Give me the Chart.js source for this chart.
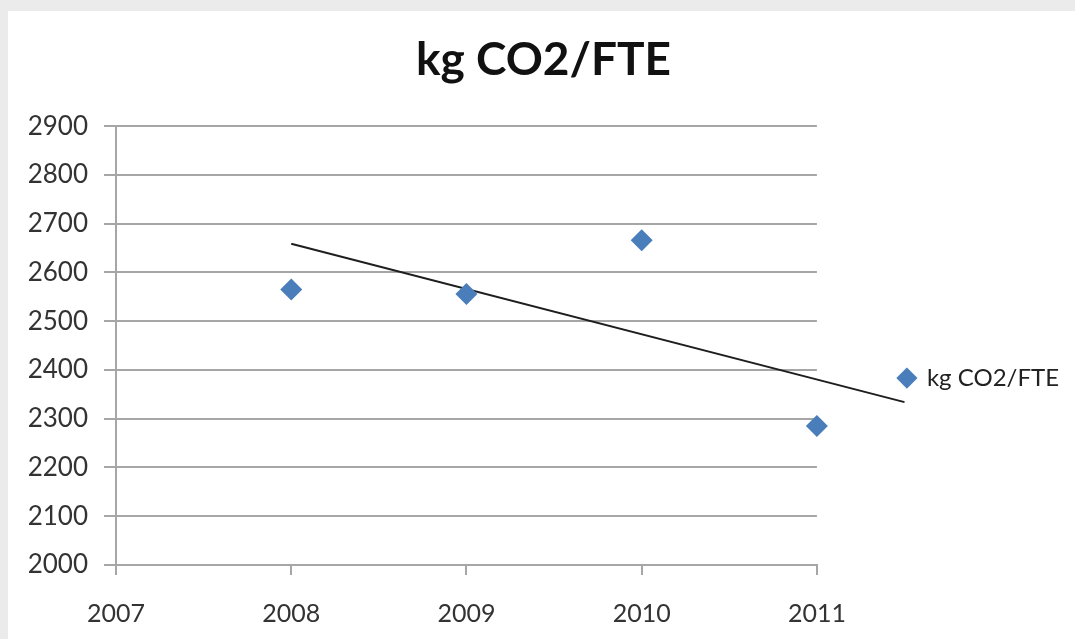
<!DOCTYPE html>
<html>
<head>
<meta charset="utf-8">
<title>kg CO2/FTE</title>
<script src="https://cdn.jsdelivr.net/npm/chart.js@4/dist/chart.umd.min.js"></script>
<style>
  body { margin: 0; background: #ebebeb; overflow: hidden; }
  #myChart { position: absolute; left: 8px; top: 11px; background: #fff; }
</style>
</head>
<body>
<canvas id="myChart" width="1067" height="628"></canvas>
<script>
// data
var years = [2008, 2009, 2010, 2011];
var kgPerFte = [2565, 2556, 2666, 2285];

// trendline ends, as drawn
var trendX = [2008, 2011.5];
var trendY = [2659, 2334];

var xMin = 2007, xMax = 2011;
var yMin = 2000, yMax = 2900, yStep = 100;

var seriesName = 'kg CO2/FTE';

var gray = '#a6a6a6';
var font = 'Lato';

var points = years.map(function(x, i) { return { x: x, y: kgPerFte[i] }; });
var trend = trendX.map(function(x, i) { return { x: x, y: trendY[i] }; });

var ctx = document.getElementById('myChart').getContext('2d');
var chart = new Chart(ctx, {
    type: 'scatter',
    data: {
        datasets: [{
            label: seriesName,
            data: points,
            pointStyle: 'rectRot',
            pointRadius: 11,
            backgroundColor: '#4A7EBB',
            borderColor: '#4A7EBB',
            borderWidth: 0,
            clip: false
        },
        {
            label: 'trend',
            type: 'line',
            data: trend,
            borderColor: '#1e1e1e',
            borderWidth: 2,
            pointRadius: 0,
            fill: false,
            clip: false
        }]
    },
    options: {
        responsive: false,
        animation: false,
        layout: { padding: { left: 10, right: 6, top: 0, bottom: 0 } },
        plugins: {
            tooltip: { enabled: false },
            title: {
                display: true,
                text: seriesName,
                color: '#111',
                font: { family: font, size: 46, weight: 'bold' },
                padding: { top: 22, bottom: 38 }
            },
            legend: {
                position: 'right',
                fullSize: false,
                align: 'center',
                title: { display: true, text: '', font: { size: 10 }, padding: { top: 53, bottom: 0 } },
                labels: {
                    filter: function(item) { return item.datasetIndex === 0; },
                    usePointStyle: true,
                    boxWidth: 16,
                    boxHeight: 15,
                    padding: 82,
                    color: '#222',
                    font: { family: font, size: 24 }
                }
            }
        },
        scales: {
            x: {
                type: 'linear',
                min: xMin,
                max: xMax,
                afterFit: function(scale) { scale.height = 74; },
                ticks: {
                    stepSize: 1,
                    padding: 24,
                    color: '#333',
                    font: { family: font, size: 25 },
                    callback: function(v) { return String(v); }
                },
                grid: { drawOnChartArea: false, drawTicks: true, tickLength: 10, color: gray, lineWidth: 2 },
                border: { display: true, color: gray, width: 2 }
            },
            y: {
                min: yMin,
                max: yMax,
                afterFit: function(scale) { scale.width = 98; },
                ticks: {
                    stepSize: yStep,
                    padding: 16,
                    color: '#333',
                    font: { family: font, size: 26 },
                    callback: function(v) { return String(v); }
                },
                grid: { color: gray, lineWidth: 2, tickLength: 12 },
                border: { display: true, color: gray, width: 2 }
            }
        }
    }
});
</script>
</body>
</html>
